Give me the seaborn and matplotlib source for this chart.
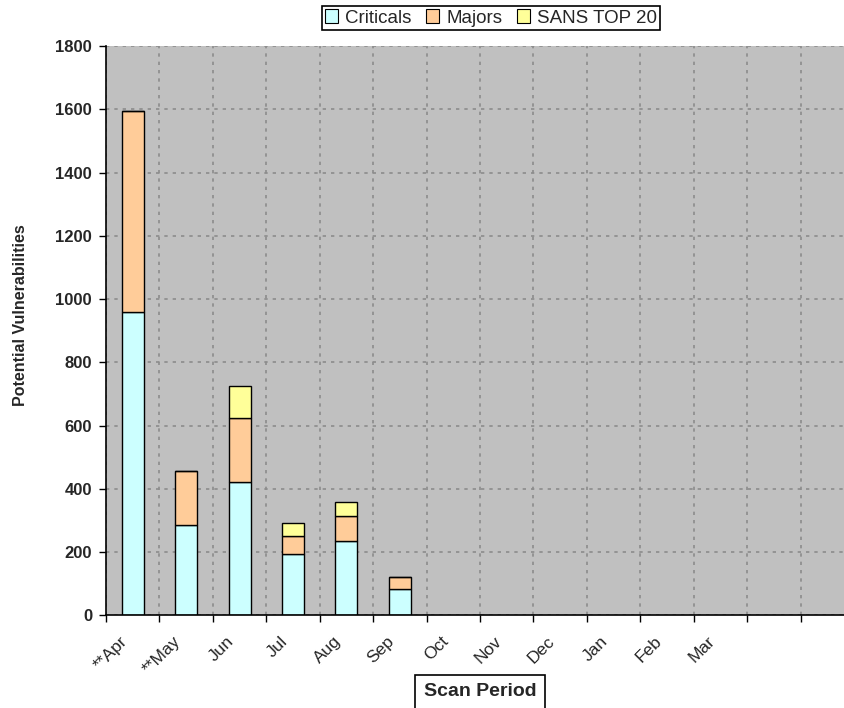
import matplotlib
matplotlib.use("Agg")
import matplotlib.pyplot as plt
import matplotlib.transforms as mtransforms
from matplotlib.patches import Patch
from matplotlib.ticker import FixedLocator, MultipleLocator
import numpy as np
import pandas as pd
import seaborn as sns

# Scan periods (fiscal year) and the counts found in each scan
periods = ["**Apr", "**May", "Jun", "Jul", "Aug", "Sep", "Oct", "Nov",
           "Dec", "Jan", "Feb", "Mar", " ", "  "]
scanned = ["**Apr", "**May", "Jun", "Jul", "Aug", "Sep"]
criticals = [960, 286, 420, 194, 235, 84]
majors = [633, 169, 203, 58, 79, 37]
sans_top20 = [0, 0, 101, 40, 43, 0]

series_names = ["Criticals", "Majors", "SANS TOP 20"]
series_colors = ["#CCFFFF", "#FFCC99", "#FFFF99"]

sns.set_theme(style="white")
plt.rcParams["font.family"] = ["Liberation Sans", "DejaVu Sans"]

df = pd.DataFrame({"period": scanned, "Criticals": criticals,
                   "Majors": majors, "SANS TOP 20": sans_top20})

fig = plt.figure(figsize=(8.45, 7.08), dpi=100)
ax = fig.add_axes([106 / 845, 92.7 / 708, 748 / 845, 569.3 / 708])
ax.set_facecolor("#C0C0C0")

bottom = np.zeros(len(scanned))
for name, color in zip(series_names, series_colors):
    vals = df[name].to_numpy(dtype=float)
    sns.barplot(data=df, x="period", y=name, order=periods, color=color,
                width=0.41, edgecolor="black", linewidth=1.0,
                bottom=bottom, ax=ax, saturation=1)
    bottom = bottom + vals

ax.set_xlim(-0.5, len(periods) - 0.5)
ax.set_ylim(0, 1800)
ax.yaxis.set_major_locator(MultipleLocator(200))

# category boundaries carry the tick marks and vertical grid
ax.xaxis.set_minor_locator(FixedLocator(np.arange(-0.5, len(periods), 1.0)))
ax.tick_params(axis="x", which="major", length=0, pad=8)
ax.tick_params(axis="x", which="minor", length=5, width=1, color="black",
               direction="out", bottom=True)
ax.tick_params(axis="y", which="major", length=5, width=1, color="black",
               direction="out", left=True, pad=5)
ax.set_xticks(range(len(periods)))
ax.set_xticklabels(periods, rotation=45, ha="right", rotation_mode="anchor",
                   fontsize=12.5)
shift = mtransforms.ScaledTranslation(-13 / 100, -7 / 100, fig.dpi_scale_trans)
for lbl in ax.get_xticklabels():
    lbl.set_transform(lbl.get_transform() + shift)
for lbl in ax.get_yticklabels():
    lbl.set_fontweight("bold")
    lbl.set_fontsize(12)

ax.grid(False)
ax.grid(True, axis="x", which="minor", color="#8C8C8C", linestyle=(0, (2, 3)),
        linewidth=1.2)
ax.grid(True, axis="y", which="major", color="#8C8C8C", linestyle=(0, (2, 3)),
        linewidth=1.2)
ax.set_axisbelow(True)

for side in ["top", "right"]:
    ax.spines[side].set_visible(False)
for side in ["left", "bottom"]:
    ax.spines[side].set_visible(True)
    ax.spines[side].set_color("black")
    ax.spines[side].set_linewidth(1.2)

ax.set_xlabel("")
ax.set_ylabel("Potential Vulnerabilities", fontsize=11.5, fontweight="bold")
ax.yaxis.set_label_coords(-86 / 748, (615.3 - 315) / 569.3)
ax.yaxis.label.set_va("center")

fig.text(480 / 845, 1 - 692 / 708, "Scan Period", ha="center", va="center",
         fontsize=14, fontweight="bold",
         bbox=dict(boxstyle="square,pad=0.45", facecolor="white",
                   edgecolor="black", linewidth=1.2))

handles = [Patch(facecolor=c, edgecolor="black", linewidth=0.8)
           for c in series_colors]
fig.legend(handles, series_names, loc="center", ncol=3,
           bbox_to_anchor=(491 / 845, 1 - 18 / 708), fontsize=13.5,
           frameon=True, fancybox=False, edgecolor="black",
           handlelength=0.7, handleheight=0.7, handletextpad=0.35,
           columnspacing=0.8, borderpad=0.2, framealpha=1)
fig.legends[0].get_frame().set_linewidth(1.2)

fig.savefig("out.png", dpi=100)
